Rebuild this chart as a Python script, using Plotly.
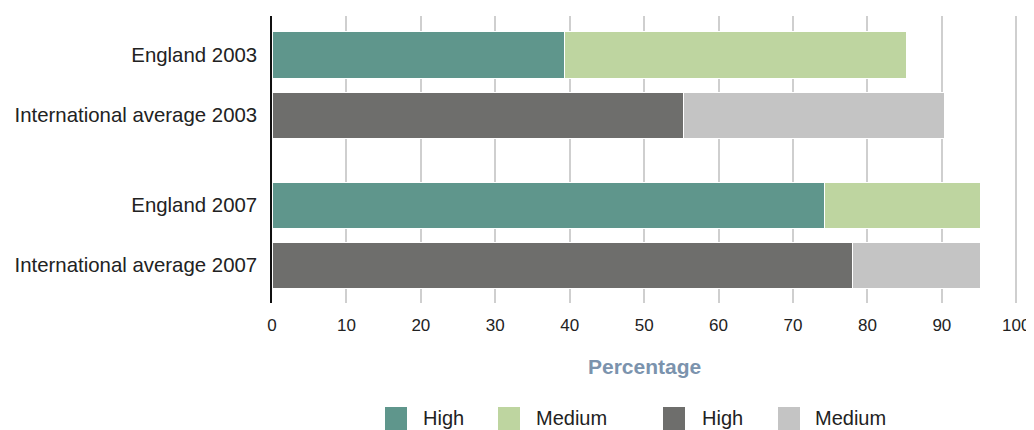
import plotly.graph_objects as go

categories = ["England 2003", "International average 2003", "England 2007", "International average 2007"]
positions = [0, 1, 2.5, 3.5]
high = [39.3, 55.3, 74.2, 78.0]
medium = [46.0, 35.0, 21.0, 17.2]
x_ticks = [0, 10, 20, 30, 40, 50, 60, 70, 80, 90, 100]
legend_labels = ["High", "Medium", "High", "Medium"]

TEAL = "#5f968c"
LGREEN = "#bed5a0"
DGRAY = "#6e6e6c"
LGRAY = "#c4c4c4"
FONT = "Liberation Sans, Arial, sans-serif"

OFF = 8  # page body margin
SCALE = 7.44  # px per percentage point
XMAX = 100.5
W, H = 1034 - OFF, 430 - OFF
L, T = 272 - OFF, 16 - OFF
PLOT_R, PLOT_B = round(L + SCALE * XMAX), 303 - OFF
R, B = W - PLOT_R, H - PLOT_B
PW, PH = PLOT_R - L, PLOT_B - T

eng_idx = [0, 2]
int_idx = [1, 3]

fig = go.Figure()
bw = 0.767
fig.add_trace(go.Bar(y=[positions[i] for i in eng_idx], x=[high[i] for i in eng_idx], orientation="h",
                     marker=dict(color=TEAL, line=dict(color="white", width=1)), width=bw, name="High"))
fig.add_trace(go.Bar(y=[positions[i] for i in eng_idx], x=[medium[i] for i in eng_idx], orientation="h",
                     marker=dict(color=LGREEN, line=dict(color="white", width=1)), width=bw, name="Medium"))
fig.add_trace(go.Bar(y=[positions[i] for i in int_idx], x=[high[i] for i in int_idx], orientation="h",
                     marker=dict(color=DGRAY, line=dict(color="white", width=1)), width=bw, name="High"))
fig.add_trace(go.Bar(y=[positions[i] for i in int_idx], x=[medium[i] for i in int_idx], orientation="h",
                     marker=dict(color=LGRAY, line=dict(color="white", width=1)), width=bw, name="Medium"))


def px_x(p):
    return (p - OFF - L) / PW


def px_y(p):
    return (PLOT_B - (p - OFF)) / PH


shapes = []
annotations = []
legend_colors = [TEAL, LGREEN, DGRAY, LGRAY]
sq_left = [385, 498, 663, 778]
txt_left = [421, 534, 700, 813]
for lbl, col, sx, tx in zip(legend_labels, legend_colors, sq_left, txt_left):
    shapes.append(dict(type="rect", xref="paper", yref="paper",
                       x0=px_x(sx), x1=px_x(sx + 22), y0=px_y(407), y1=px_y(431),
                       fillcolor=col, line=dict(width=0)))
    annotations.append(dict(text=lbl, xref="paper", yref="paper", x=px_x(tx), y=px_y(418),
                            xanchor="left", yanchor="middle", showarrow=False,
                            font=dict(family=FONT, size=20, color="#222222")))

annotations.append(dict(text="<b>Percentage</b>", xref="paper", yref="paper", x=px_x(644), y=px_y(366),
                        xanchor="center", yanchor="middle", showarrow=False,
                        font=dict(family=FONT, size=21, color="#7b93ad")))

fig.update_layout(
    width=W, height=H,
    margin=dict(l=L, r=R, t=T, b=B, pad=0, autoexpand=False),
    barmode="stack",
    showlegend=False,
    plot_bgcolor="white", paper_bgcolor="white",
    font=dict(family=FONT, color="#222222"),
    xaxis=dict(range=[0, XMAX], tickvals=x_ticks, showgrid=True, gridcolor="#cfcfcf", gridwidth=1.5,
               zeroline=False, showline=False, tickfont=dict(size=17, color="#222222"),
               ticks="", ticklabelstandoff=10, automargin=False, ticklabeloverflow="allow"),
    yaxis=dict(range=[4.133, -0.65], tickvals=positions, ticktext=categories, showgrid=False,
               zeroline=False, showline=True, linecolor="#111111", linewidth=1.5,
               tickfont=dict(size=20.4, color="#222222"), ticks="", ticklabelstandoff=9,
               automargin=False),
    shapes=shapes,
    annotations=annotations,
)

fig.write_html("out.html", post_script="document.body.style.overflow='hidden';")
